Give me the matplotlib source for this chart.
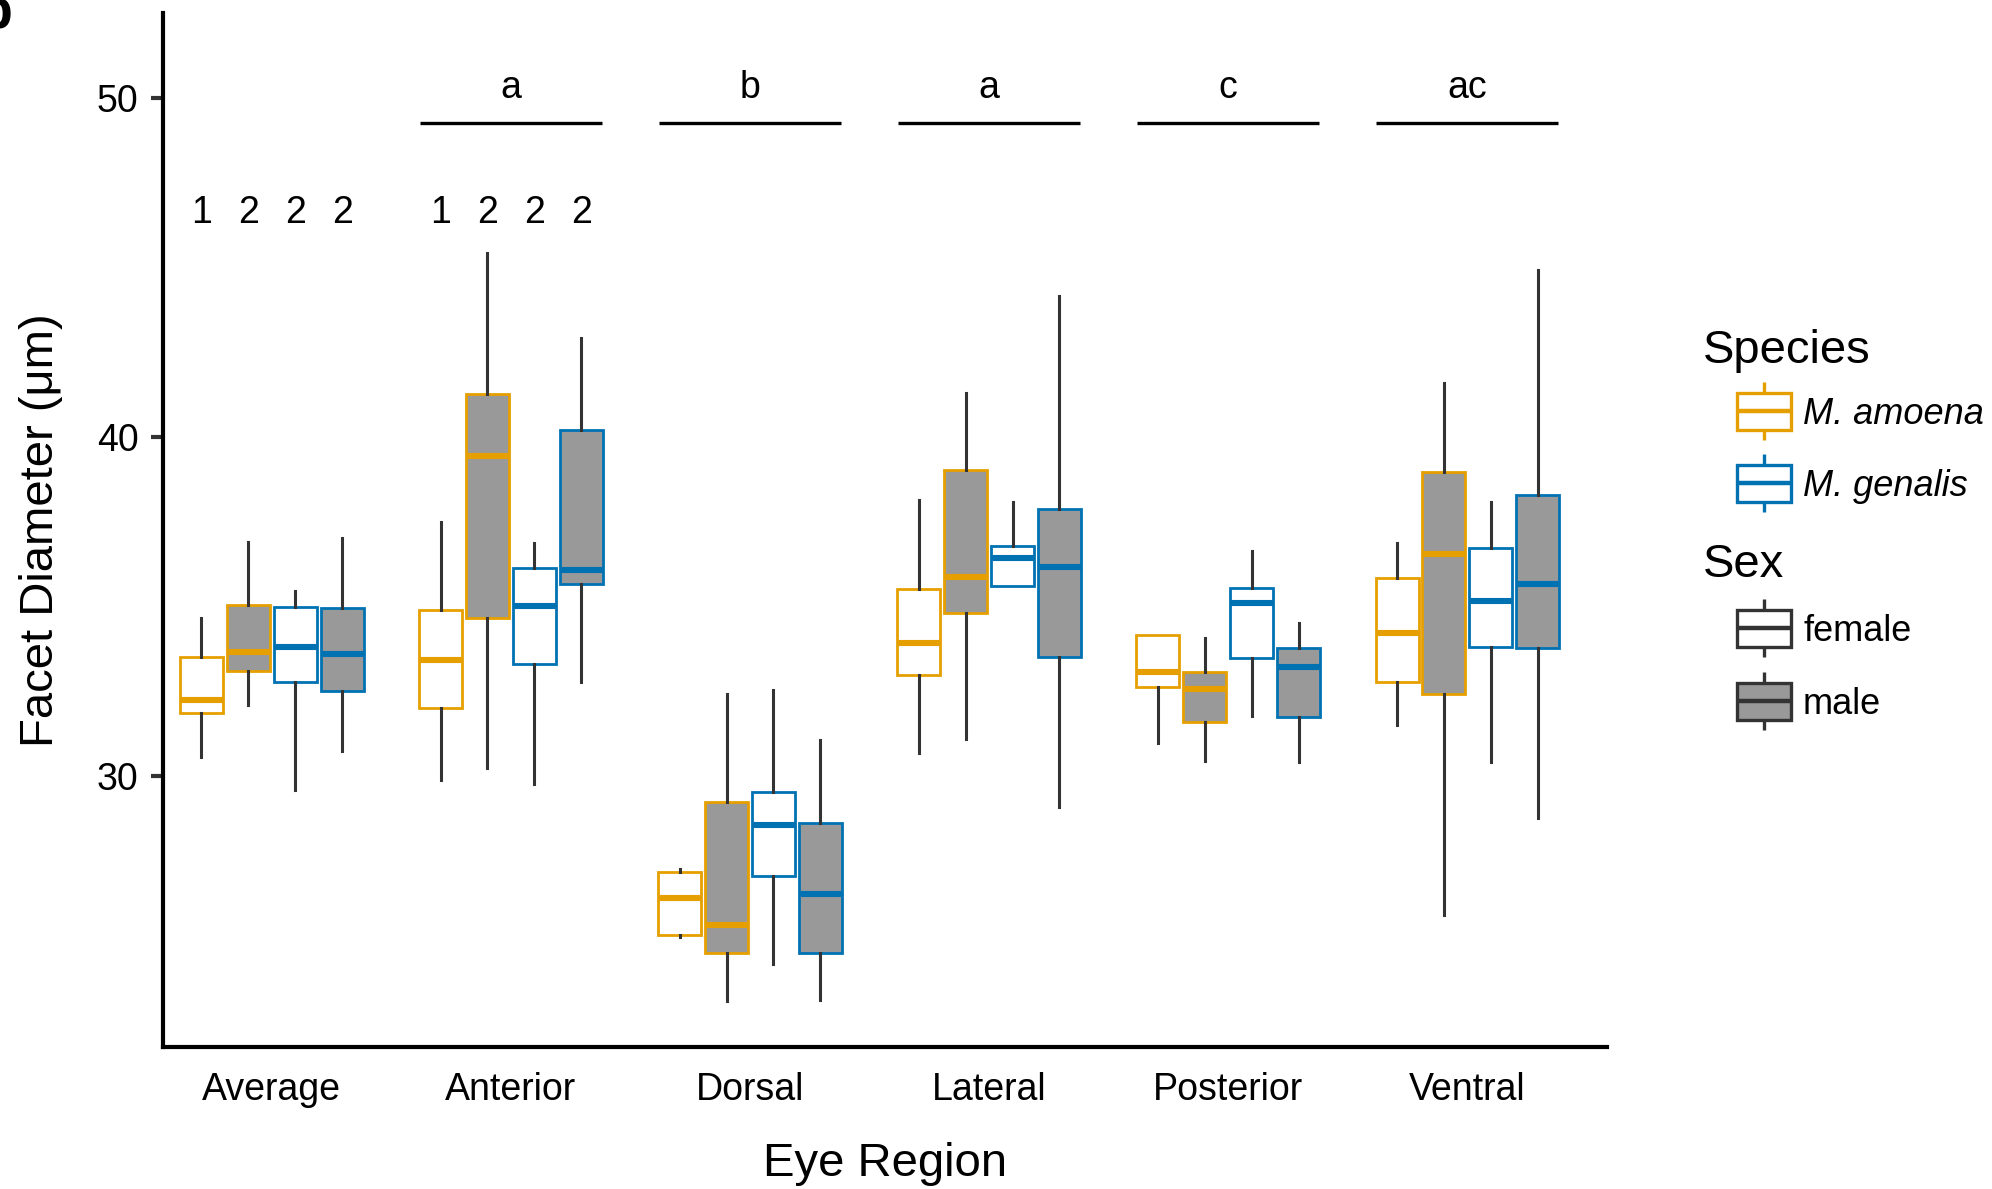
import matplotlib
matplotlib.use('Agg')
import numpy as np
import matplotlib.pyplot as plt
from matplotlib.patches import Rectangle

plt.rcParams['font.family'] = ['Liberation Sans', 'DejaVu Sans']

regions = ['Average', 'Anterior', 'Dorsal', 'Lateral', 'Posterior', 'Ventral']

# [lower whisker, Q1, median, Q3, upper whisker] per region
amoena_female = [[30.57, 31.88, 32.24, 33.52, 34.66],
                 [29.89, 32.00, 33.43, 34.90, 37.50],
                 [25.27, 25.32, 26.40, 27.18, 27.26],
                 [30.68, 32.99, 33.92, 35.53, 38.13],
                 [30.97, 32.64, 33.06, 34.16, 34.16],
                 [31.50, 32.79, 34.22, 35.84, 36.89]]
amoena_male = [[32.10, 33.11, 33.67, 35.05, 36.91],
               [30.23, 34.68, 39.44, 41.27, 45.43],
               [23.38, 24.78, 25.61, 29.25, 32.44],
               [31.09, 34.82, 35.88, 39.02, 41.31],
               [30.45, 31.61, 32.57, 33.08, 34.07],
               [25.90, 32.44, 36.54, 38.97, 41.59]]
genalis_female = [[29.61, 32.77, 33.82, 35.00, 35.47],
                  [29.77, 33.30, 35.03, 36.13, 36.87],
                  [24.46, 27.07, 28.56, 29.53, 32.54],
                  [35.62, 35.62, 36.44, 36.79, 38.10],
                  [31.77, 33.48, 35.10, 35.54, 36.64],
                  [30.42, 33.80, 35.16, 36.72, 38.08]]
genalis_male = [[30.75, 32.52, 33.60, 34.97, 37.03],
                [32.79, 35.66, 36.08, 40.22, 42.92],
                [23.42, 24.78, 26.52, 28.63, 31.07],
                [29.10, 33.51, 36.16, 37.88, 44.15],
                [30.41, 31.75, 33.23, 33.77, 34.53],
                [28.76, 33.77, 35.67, 38.30, 44.92]]

series_data = [amoena_female, amoena_male, genalis_female, genalis_male]
series_species = ['M. amoena', 'M. amoena', 'M. genalis', 'M. genalis']
series_sex = ['female', 'male', 'female', 'male']

# pairwise letters over regions, group numbers over boxes
sig_regions = ['Anterior', 'Dorsal', 'Lateral', 'Posterior', 'Ventral']
sig_letters = ['a', 'b', 'a', 'c', 'ac']
num_regions = ['Average', 'Anterior']
num_labels = ['1', '2', '2', '2']

species_colors = {'M. amoena': '#E69F00', 'M. genalis': '#0072B2'}
sex_fills = {'female': 'white', 'male': '#999999'}
whisker_col = '#333333'

W, H = 1992, 1189
fig = plt.figure(figsize=(W / 100, H / 100), dpi=100)
ax = fig.add_axes([163 / W, 1 - 1047 / H, 1444 / W, 1034 / H])

x = np.arange(1, len(regions) + 1)
offsets = [-0.294, -0.098, 0.098, 0.294]

for k, vals in enumerate(series_data):
    col = species_colors[series_species[k]]
    stats = [dict(whislo=v[0], q1=v[1], med=v[2], q3=v[3], whishi=v[4]) for v in vals]
    ax.bxp(stats, positions=x + offsets[k], widths=0.18, patch_artist=True,
           showfliers=False, showcaps=False, manage_ticks=False,
           boxprops=dict(facecolor=sex_fills[series_sex[k]], edgecolor=col, linewidth=2.0),
           medianprops=dict(color=col, linewidth=4.4, solid_capstyle='butt'),
           whiskerprops=dict(color=whisker_col, linewidth=2.2))

for r in num_regions:
    i = regions.index(r)
    for k, lab in enumerate(num_labels):
        ax.text(x[i] + offsets[k], 46.3, lab, ha='center', va='baseline', fontsize=27)

for r, let in zip(sig_regions, sig_letters):
    i = regions.index(r)
    ax.hlines(49.26, x[i] - 0.38, x[i] + 0.38, color='black', lw=2.4)
    ax.text(x[i], 50.0, let, ha='center', va='baseline', fontsize=27)

ax.set_xlim(0.545, 6.584)
ax.set_ylim(22.02, 52.5)
ax.set_xticks(x)
ax.set_xticklabels(regions)
ax.set_yticks([30, 40, 50])
for s in ['top', 'right']:
    ax.spines[s].set_visible(False)
for s in ['left', 'bottom']:
    ax.spines[s].set_linewidth(3)
    ax.spines[s].set_color('black')
ax.tick_params(axis='y', length=8.6, width=3, color=whisker_col, pad=9, labelsize=27)
ax.tick_params(axis='x', length=0, pad=18, labelsize=27)

ax.set_xlabel('Eye Region', fontsize=34, va='center')
ax.xaxis.set_label_coords(0.5, -0.113)
ax.set_ylabel('Facet Diameter (\u03bcm)', fontsize=34, va='center')
ax.yaxis.set_label_coords(-0.0848, 0.5)

# legend, drawn in pixel space
lax = fig.add_axes([0, 0, 1, 1])
lax.set_xlim(0, W)
lax.set_ylim(H, 0)
lax.axis('off')


def legend_key(yc, edge, fill, label, style):
    lax.add_patch(Rectangle((1737, yc - 18.5), 54, 37, facecolor=fill, edgecolor=edge, lw=2.4))
    lax.hlines(yc, 1737, 1791, color=edge, lw=3.2)
    lax.vlines(1764, yc - 29, yc - 18.5, color=edge, lw=2.4)
    lax.vlines(1764, yc + 18.5, yc + 29, color=edge, lw=2.4)
    lax.text(1803, yc + 13, label, ha='left', va='baseline', fontsize=26, style=style)


lax.text(1703, 363, 'Species', ha='left', va='baseline', fontsize=34)
for yc, sp in zip([411, 483], ['M. amoena', 'M. genalis']):
    legend_key(yc, species_colors[sp], 'white', sp, 'italic')
lax.text(1703, 577, 'Sex', ha='left', va='baseline', fontsize=34)
for yc, sx in zip([628, 701], ['female', 'male']):
    legend_key(yc, whisker_col, sex_fills[sx], sx, 'normal')

# cropped panel letter
fig.text(12 / W, 1 - 27 / H, 'b', ha='right', va='baseline', fontsize=40, fontweight='bold')

fig.savefig('out.png', dpi=100)
